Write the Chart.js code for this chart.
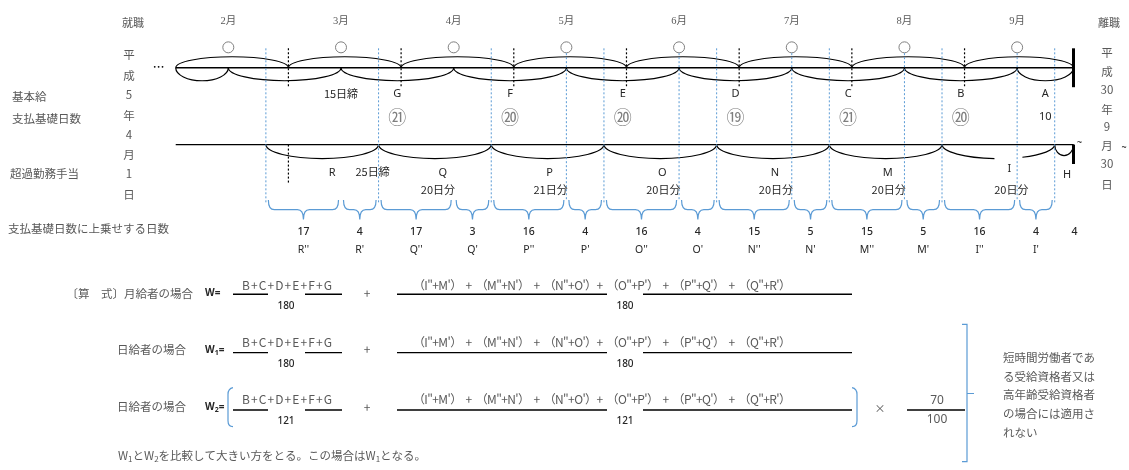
<!DOCTYPE html>
<html lang="ja">
<head>
<meta charset="utf-8">
<title>支払基礎日数</title>
<script src="https://cdn.jsdelivr.net/npm/chart.js@4.4.0/dist/chart.umd.min.js"></script>
<style>
  html, body { margin: 0; padding: 0; background: #fff; }
  #wrap { width: 1129px; height: 470px; position: relative; }
</style>
</head>
<body>
<div id="wrap"><canvas id="chart"></canvas></div>
<script>
// ---- data ----
const months = ['2月', '3月', '4月', '5月', '6月', '7月', '8月', '9月'];
const basicLabels = ['G', 'F', 'E', 'D', 'C', 'B', 'A'];
const basicDays = [21, 20, 20, 19, 21, 20, 10];
const otLabels = ['R', 'Q', 'P', 'O', 'N', 'M', 'I'];
const otDays = [null, 20, 21, 20, 20, 20, 20];
const lastLabel = 'H';
const lastDays = 4;
const addLabels = ["R''", "R'", "Q''", "Q'", "P''", "P'", "O''", "O'", "N''", "N'", "M''", "M'", "I''", "I'"];
const addDays = [17, 4, 17, 3, 16, 4, 16, 4, 15, 5, 15, 5, 16, 4];
const denominators = [180, 180, 121];
const rowNames = ['〔算　式〕月給者の場合', '日給者の場合', '日給者の場合'];
const rowW = ['', '1', '2'];
const rate = [70, 100];
const joinDate = ['平', '成', '5', '年', '4', '月', '1', '日'];
const leaveDate = ['平', '成', '30', '年', '9', '月', '30', '日'];
const note = ['短時間労働者であ', 'る受給資格者又は', '高年齢受給資格者', 'の場合には適用さ', 'れない'];

const BASIC_CLOSE = 15;   // 基本給 15日締
const OT_CLOSE = 25;      // 超過勤務手当 25日締
const FIRST = 1, LAST = 30;

// schematic day axis: month index * 30 + (day - 15)
const dayOf = (m, d) => 30 * m + (d - 15);
const START = dayOf(0, FIRST);
const END = dayOf(months.length - 1, LAST);

// ---- layout (vertical levels) ----
const L = {
  month: 15, circle: 42, top: 63, up: 11, down: 13,
  dashA: 43, dashB: 82, bLabel: 90, bDays: 114,
  bottom: 142, otDown: 14, otLabel: 171, otDays: 189,
  blueA: 43, blueB: 202, brTop: 199, brMid: 209, brTip: 219,
  addNum: 232, addLab: 250
};
const ROWS = [
  { num: 287, line: 296, den: 308 },
  { num: 345, line: 356, den: 368 },
  { num: 404, line: 415, den: 426 }
];

const GRAY = '#595959', DARK = '#262626', BLUE = '#5b9bd5';
const JP = '"Noto Sans CJK JP", sans-serif';
const LAT = '"Noto Sans", "Noto Sans CJK JP", sans-serif';

function circled(n) {
  if (n <= 20) return String.fromCharCode(0x2460 + n - 1);
  return String.fromCharCode(0x3251 + n - 21);
}

function text(ctx, s, x, y, font, color, align) {
  ctx.font = font;
  ctx.fillStyle = color;
  ctx.textAlign = align || 'center';
  ctx.textBaseline = 'middle';
  ctx.fillText(s, x, y);
}

function fitText(ctx, s, x, y, w, font, color) {
  ctx.save();
  ctx.font = font;
  ctx.fillStyle = color;
  ctx.textAlign = 'left';
  ctx.textBaseline = 'middle';
  const n = [...s].length;
  const m = ctx.measureText(s).width;
  if ('letterSpacing' in ctx) {
    ctx.letterSpacing = ((w - m) / (n - 1)) + 'px';
    ctx.fillText(s, x, y);
  } else {
    ctx.translate(x, y);
    ctx.scale(w / m, 1);
    ctx.fillText(s, 0, 0);
  }
  ctx.restore();
}

function halfEllipse(ctx, x1, x2, yl, depth, up, gap) {
  const cx = (x1 + x2) / 2, rx = (x2 - x1) / 2;
  ctx.beginPath();
  if (up) {
    ctx.ellipse(cx, yl, rx, depth, 0, Math.PI, 2 * Math.PI);
  } else if (gap) {
    ctx.ellipse(cx, yl, rx, depth, 0, 0, gap[0]);
    ctx.moveTo(cx + rx * Math.cos(gap[1]), yl + depth * Math.sin(gap[1]));
    ctx.ellipse(cx, yl, rx, depth, 0, gap[1], Math.PI);
  } else {
    ctx.ellipse(cx, yl, rx, depth, 0, 0, Math.PI);
  }
  ctx.stroke();
}

function vline(ctx, x, y1, y2, color, dash, width) {
  ctx.save();
  ctx.strokeStyle = color;
  ctx.lineWidth = width || 1;
  ctx.setLineDash(dash || []);
  ctx.beginPath();
  ctx.moveTo(x, y1);
  ctx.lineTo(x, y2);
  ctx.stroke();
  ctx.restore();
}

function brace(ctx, x1, x2, yt, ym, yb) {
  const mid = (x1 + x2) / 2, r = 6;
  ctx.beginPath();
  ctx.moveTo(x1, yt);
  ctx.quadraticCurveTo(x1, ym, x1 + r, ym);
  ctx.lineTo(mid - r, ym);
  ctx.quadraticCurveTo(mid, ym, mid, yb);
  ctx.quadraticCurveTo(mid, ym, mid + r, ym);
  ctx.lineTo(x2 - r, ym);
  ctx.quadraticCurveTo(x2, ym, x2, yt);
  ctx.stroke();
}

const diagram = {
  id: 'diagram',
  afterDatasetsDraw(chart) {
    const ctx = chart.ctx;
    const xs = chart.scales.x, ys = chart.scales.y;
    const X = d => xs.getPixelForValue(d);
    const Y = v => ys.getPixelForValue(v);
    ctx.save();

    // header texts
    months.forEach((m, i) => text(ctx, m, X(dayOf(i, BASIC_CLOSE)), Y(L.month),
      '10.5px "Liberation Serif", "Noto Sans CJK JP", serif', GRAY));
    text(ctx, '就職', 133, Y(17), '11px ' + JP, GRAY);
    text(ctx, '離職', 1109, Y(17), '11px ' + JP, GRAY);
    const joinY = [49, 71, 91, 112, 132, 152, 172, 193];
    const leaveY = [47, 67, 85, 106, 124, 143, 162, 183];
    joinDate.forEach((c, i) => text(ctx, c, 129, Y(joinY[i]), '11.5px ' + JP, GRAY));
    leaveDate.forEach((c, i) => text(ctx, c, 1107, Y(leaveY[i]), '11.5px ' + JP, GRAY));

    // left row titles
    text(ctx, '基本給', 12, Y(93), '11.5px ' + JP, GRAY, 'left');
    text(ctx, '支払基礎日数', 12, Y(115), '11.5px ' + JP, GRAY, 'left');
    text(ctx, '超過勤務手当', 10, Y(172), '11.5px ' + JP, GRAY, 'left');
    text(ctx, '支払基礎日数に上乗せする日数', 8, Y(228), '11.5px ' + JP, GRAY, 'left');

    // ellipsis before the top line
    ctx.fillStyle = '#000';
    [-7, -5.7, -4.4].forEach(d => {
      ctx.beginPath();
      ctx.arc(X(START) + d * 3, Y(L.top - 1), 0.9, 0, 2 * Math.PI);
      ctx.fill();
    });

    // top line arcs: calendar months above, 15日締 periods below
    ctx.strokeStyle = '#000';
    ctx.lineWidth = 1.2;
    const firsts = [START];
    for (let m = 1; m < months.length; m++) firsts.push(dayOf(m, FIRST));
    firsts.push(END);
    for (let i = 0; i < firsts.length - 1; i++) {
      halfEllipse(ctx, X(firsts[i]), X(firsts[i + 1]), Y(L.top), L.up, true);
    }
    const closes = [START];
    for (let m = 0; m < months.length; m++) closes.push(dayOf(m, BASIC_CLOSE));
    closes.push(END);
    for (let i = 0; i < closes.length - 1; i++) {
      halfEllipse(ctx, X(closes[i]), X(closes[i + 1]), Y(L.top), L.down, false);
    }

    // bottom line arcs: 25日締 periods
    for (let i = 0; i < otLabels.length; i++) {
      const gap = i === otLabels.length - 1 ? [1.13, 1.64] : null;
      halfEllipse(ctx, X(dayOf(i, OT_CLOSE)), X(dayOf(i + 1, OT_CLOSE)), Y(L.bottom), L.otDown, false, gap);
    }
    halfEllipse(ctx, X(dayOf(months.length - 1, OT_CLOSE)), X(END), Y(L.bottom), 11, false);

    // end of employment bars
    vline(ctx, X(END), Y(L.dashA), Y(L.dashB + 1), '#000', null, 3);
    vline(ctx, X(END), Y(L.bottom), Y(162), '#000', null, 3);
    text(ctx, '~', X(END) + 6, Y(L.bottom - 2), '9px ' + LAT, '#000');
    text(ctx, '~', 1124, Y(145), '9px ' + LAT, '#000');

    // month starts (black dashed)
    for (let m = 1; m < months.length; m++) {
      vline(ctx, X(dayOf(m, FIRST)), Y(L.dashA), Y(L.dashB), '#000', [2, 2], 1.2);
    }
    vline(ctx, X(dayOf(1, FIRST)), Y(L.bottom), Y(182), '#000', [2, 2], 1.2);

    // blue dotted guides
    for (let m = 0; m < months.length; m++) {
      vline(ctx, X(dayOf(m, OT_CLOSE)), Y(L.blueA), Y(L.blueB), BLUE, [2, 2], 1);
    }
    for (let m = 3; m < months.length; m++) {
      vline(ctx, X(dayOf(m, BASIC_CLOSE)), Y(48), Y(199), BLUE, [2, 2], 1);
    }

    // basic salary labels and days
    text(ctx, '15日締', X(dayOf(1, BASIC_CLOSE)), Y(L.bLabel), '11px ' + JP, DARK);
    basicLabels.forEach((lab, i) => {
      const a = dayOf(i + 1, BASIC_CLOSE);
      const b = Math.min(dayOf(i + 2, BASIC_CLOSE), END);
      const cx = X((a + b) / 2);
      text(ctx, lab, cx, Y(L.bLabel), '11px ' + LAT, DARK);
      const n = basicDays[i];
      if (n >= 11) text(ctx, circled(n), cx, Y(L.bDays), '18px ' + JP, '#7f7f7f');
      else text(ctx, String(n), cx, Y(L.bDays), '11px ' + LAT, DARK);
    });

    // overtime labels and days
    otLabels.forEach((lab, i) => {
      const cx = X((dayOf(i, OT_CLOSE) + dayOf(i + 1, OT_CLOSE)) / 2);
      text(ctx, lab, cx + (i === 0 ? 10 : i === 1 ? 8 : i === 6 ? 11 : 2), Y(L.otLabel - (i === 6 ? 4 : 0)), '11px ' + LAT, DARK);
      if (otDays[i] != null) {
        text(ctx, otDays[i] + '日分', cx + (i === 6 ? 13 : 3), Y(L.otDays), '11px ' + JP, DARK);
      }
    });
    text(ctx, '25日締', X(dayOf(1, OT_CLOSE)) - 6, Y(L.otLabel - 1), '11px ' + JP, DARK);
    text(ctx, lastLabel, X((dayOf(months.length - 1, OT_CLOSE) + END) / 2) + 3, Y(L.otLabel + 2), '11px ' + LAT, DARK);

    // braces and added days
    ctx.strokeStyle = BLUE;
    ctx.lineWidth = 1.2;
    for (let i = 0; i < otLabels.length; i++) {
      const pts = [dayOf(i, OT_CLOSE), dayOf(i + 1, BASIC_CLOSE), dayOf(i + 1, OT_CLOSE)];
      for (let k = 0; k < 2; k++) {
        const x1 = X(pts[k]) + 2.5, x2 = X(pts[k + 1]) - 2.5;
        brace(ctx, x1, x2, Y(L.brTop), Y(L.brMid), Y(L.brTip));
        const cx = (x1 + x2) / 2;
        text(ctx, String(addDays[2 * i + k]), cx, Y(L.addNum), '500 10.5px ' + LAT, DARK);
        text(ctx, addLabels[2 * i + k], cx, Y(L.addLab), '10.5px ' + LAT, DARK);
      }
    }
    text(ctx, String(lastDays), X(END) + 1, Y(L.addNum), '500 10.5px ' + LAT, DARK);

    // formulas
    const numA = 'B+C+D+E+F+G';
    const numB = '（I"+M\'）  +  （M"+N\'）  +  （N"+O\'）+  （O"+P\'）  +  （P"+Q\'）  +  （Q"+R\'）';
    ROWS.forEach((r, i) => {
      text(ctx, rowNames[i], i === 0 ? 193 : 186, Y(r.num + 8), '11.5px ' + JP, GRAY, 'right');
      ctx.font = 'bold 10px ' + LAT;
      ctx.fillStyle = DARK;
      ctx.textAlign = 'left';
      ctx.fillText('W', 205, Y(r.num + 8));
      let wx = 205 + ctx.measureText('W').width;
      if (rowW[i]) {
        ctx.font = 'bold 7px ' + LAT;
        ctx.fillText(rowW[i], wx, Y(r.num + 11));
        wx += ctx.measureText(rowW[i]).width;
        ctx.font = 'bold 10px ' + LAT;
      }
      ctx.fillText('=', wx, Y(r.num + 8));

      fitText(ctx, numA, 242, Y(r.num), 90, '12px ' + JP, GRAY);
      fitText(ctx, numB, 413, Y(r.num), 378, '12px ' + JP, GRAY);
      text(ctx, '+', 367, Y(r.num + 8), '12px ' + JP, GRAY);

      ctx.strokeStyle = '#000';
      ctx.lineWidth = 1.4;
      ctx.beginPath();
      ctx.moveTo(233, Y(r.line)); ctx.lineTo(268, Y(r.line));
      ctx.moveTo(305, Y(r.line)); ctx.lineTo(342, Y(r.line));
      ctx.moveTo(397, Y(r.line)); ctx.lineTo(607, Y(r.line));
      ctx.moveTo(643, Y(r.line)); ctx.lineTo(852, Y(r.line));
      ctx.stroke();
      text(ctx, String(denominators[i]), 286, Y(r.den), '500 10px ' + LAT, DARK);
      text(ctx, String(denominators[i]), 625, Y(r.den), '500 10px ' + LAT, DARK);
    });

    // W2 brackets and x 70/100
    const r3 = ROWS[2];
    ctx.strokeStyle = BLUE;
    ctx.lineWidth = 1.2;
    ctx.beginPath();
    ctx.moveTo(233, Y(r3.num - 12));
    ctx.quadraticCurveTo(228, Y(r3.num - 11), 228, Y(r3.num - 5));
    ctx.lineTo(228, Y(r3.den));
    ctx.quadraticCurveTo(228, Y(r3.den + 6), 233, Y(r3.den + 6));
    ctx.moveTo(852, Y(r3.num - 12));
    ctx.quadraticCurveTo(857, Y(r3.num - 11), 857, Y(r3.num - 5));
    ctx.lineTo(857, Y(r3.den));
    ctx.quadraticCurveTo(857, Y(r3.den + 6), 852, Y(r3.den + 6));
    ctx.stroke();
    text(ctx, '×', 880, Y(r3.line - 1), '11px ' + JP, GRAY);
    text(ctx, String(rate[0]), 937, Y(r3.line - 10), '12px ' + LAT, GRAY);
    text(ctx, String(rate[1]), 937, Y(r3.line + 10), '12px ' + LAT, GRAY);
    ctx.strokeStyle = '#000';
    ctx.lineWidth = 1.4;
    ctx.beginPath();
    ctx.moveTo(907, Y(r3.line)); ctx.lineTo(965, Y(r3.line));
    ctx.stroke();

    // big bracket and note
    ctx.strokeStyle = BLUE;
    ctx.lineWidth = 1.2;
    ctx.beginPath();
    ctx.moveTo(962, Y(327));
    ctx.lineTo(967, Y(327));
    ctx.lineTo(967, Y(468));
    ctx.lineTo(962, Y(468));
    ctx.moveTo(967, Y(398));
    ctx.lineTo(974, Y(398));
    ctx.stroke();
    note.forEach((s, i) => text(ctx, s, 1003, Y(361 + i * 19.2), '11.5px ' + JP, GRAY, 'left'));

    // conclusion
    ctx.fillStyle = GRAY;
    ctx.textAlign = 'left';
    let bx = 118;
    const yb = Y(462);
    [['W', 0], ['1', 1], ['とW', 0], ['2', 1], ['を比較して大きい方をとる。この場合はW', 0], ['1', 1], ['となる。', 0]]
      .forEach(([s, sub]) => {
        ctx.font = (sub ? '8px ' : '11.5px ') + JP;
        ctx.fillText(s, bx, yb + (sub ? 3 : 0));
        bx += ctx.measureText(s).width;
      });

    ctx.restore();
  }
};

new Chart(document.getElementById('chart'), {
  type: 'scatter',
  data: {
    datasets: [
      {
        label: '基本給',
        data: [{ x: START, y: L.top }, { x: END, y: L.top }],
        showLine: true, borderColor: '#000', borderWidth: 1.3, pointRadius: 0
      },
      {
        label: '超過勤務手当',
        data: [{ x: START, y: L.bottom }, { x: END, y: L.bottom }],
        showLine: true, borderColor: '#000', borderWidth: 1.3, pointRadius: 0
      },
      {
        label: '○',
        data: months.map((m, i) => ({ x: dayOf(i, BASIC_CLOSE), y: L.circle })),
        pointStyle: 'circle', pointRadius: 5.5, borderWidth: 1,
        borderColor: '#7f7f7f', backgroundColor: '#fff'
      }
    ]
  },
  options: {
    responsive: true,
    maintainAspectRatio: false,
    animation: false,
    layout: { padding: 0 },
    plugins: { legend: { display: false }, tooltip: { enabled: false } },
    scales: {
      x: { type: 'linear', min: -59.05, max: 238.05, display: false },
      y: { type: 'linear', min: 0, max: 470, reverse: true, display: false }
    }
  },
  plugins: [diagram]
});
</script>
</body>
</html>
